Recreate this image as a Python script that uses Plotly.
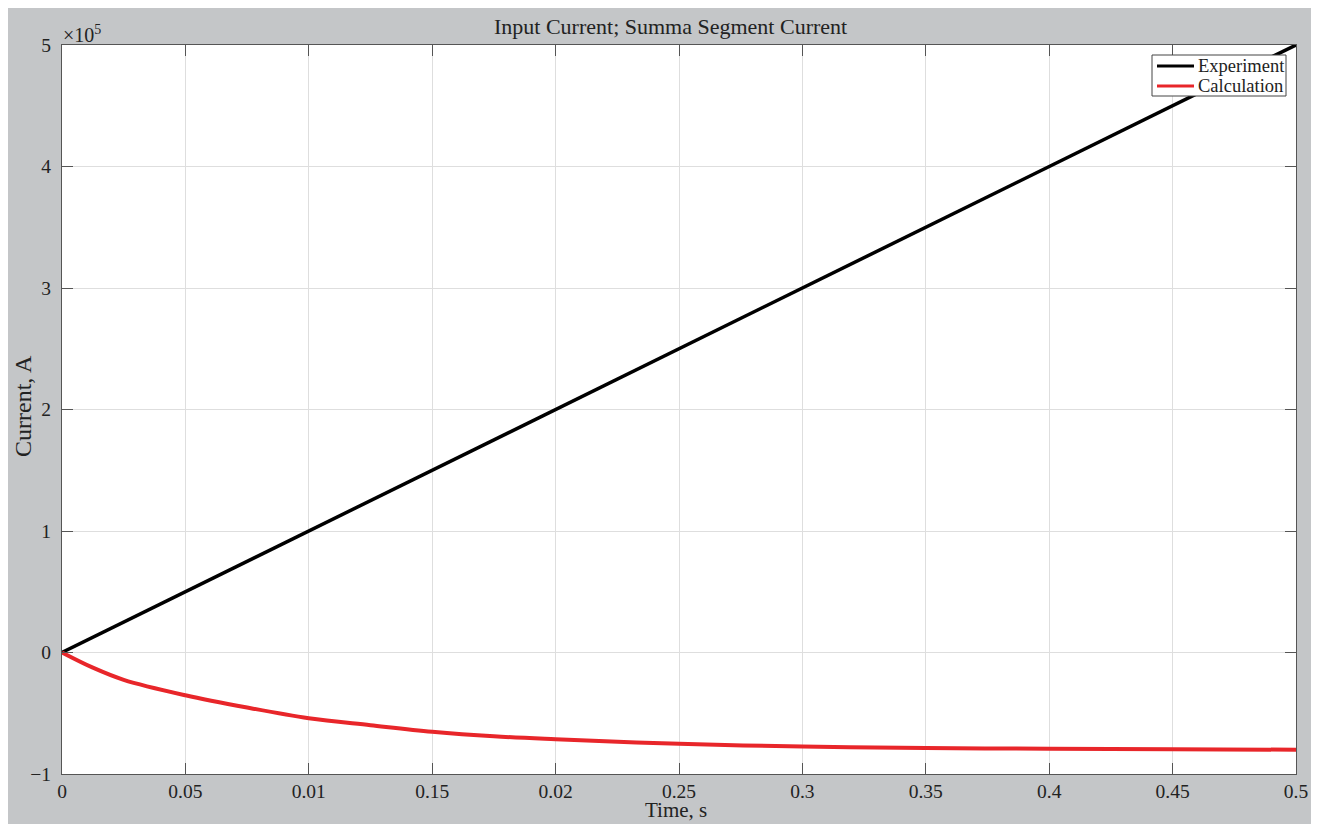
import plotly.graph_objects as go

# ---- data ----
t_exp = [0.0, 0.1, 0.2, 0.3, 0.4, 0.5]
i_exp = [0.0, 1.0e5, 2.0e5, 3.0e5, 4.0e5, 5.0e5]

t_calc = [0.0, 0.0125, 0.025, 0.05, 0.075, 0.1, 0.125, 0.15, 0.175, 0.2,
          0.25, 0.3, 0.35, 0.4, 0.45, 0.5]
i_calc = [0.0, -0.125e5, -0.225e5, -0.352e5, -0.453e5, -0.541e5, -0.598e5,
          -0.652e5, -0.69e5, -0.714e5, -0.752e5, -0.774e5, -0.786e5,
          -0.792e5, -0.797e5, -0.80e5]

x_tickvals = [0, 0.05, 0.1, 0.15, 0.2, 0.25, 0.3, 0.35, 0.4, 0.45, 0.5]
x_ticktext = ["0", "0.05", "0.01", "0.15", "0.02", "0.25", "0.3", "0.35", "0.4", "0.45", "0.5"]
y_tickvals = [-1e5, 0, 1e5, 2e5, 3e5, 4e5, 5e5]
y_ticktext = ["\u22121", "0", "1", "2", "3", "4", "5"]

series_names = ["Experiment", "Calculation"]
series_colors = ["#000000", "#e8262a"]

FONT = "Liberation Serif"
OFF = 8  # page body margin (white strip at top/left)
W, H = 1311, 816
# plot area in page pixels: left 62, right 1296, top 45, bottom 774
L, T = 62 - OFF, 45 - OFF
R = W - (1296 - OFF)
B = H - (774 - OFF)
PW, PH = W - L - R, H - T - B

def px_x(p):
    return (p - OFF - L) / PW

def px_y(p):
    return (H - B - (p - OFF)) / PH

fig = go.Figure()
fig.add_trace(go.Scatter(x=t_exp, y=i_exp, mode="lines", name=series_names[0],
                         line=dict(color=series_colors[0], width=3.5)))
fig.add_trace(go.Scatter(x=t_calc, y=i_calc, mode="lines", name=series_names[1],
                         line=dict(color=series_colors[1], width=4, shape="spline")))

axis_common = dict(
    showline=True, linecolor="#555555", linewidth=1, mirror="allticks",
    ticks="inside", ticklen=11, tickcolor="#555555", tickwidth=1,
    showgrid=True, gridcolor="#dedede", gridwidth=1, zeroline=False,
    tickfont=dict(family=FONT, size=19.5, color="#222222"),
)

fig.update_xaxes(range=[0, 0.5], tickmode="array", tickvals=x_tickvals,
                 ticktext=x_ticktext, ticklabelstandoff=0, **axis_common)
fig.update_yaxes(range=[-1e5, 5e5], tickmode="array", tickvals=y_tickvals,
                 ticktext=y_ticktext, ticklabelstandoff=6, **axis_common)

# legend box (drawn manually to match the compact MATLAB legend)
shapes = [
    dict(type="rect", xref="paper", yref="paper", layer="above",
         x0=px_x(1152), x1=px_x(1286), y0=px_y(96), y1=px_y(55),
         fillcolor="#ffffff", line=dict(color="#444444", width=1)),
]
annotations = []
row_y = [66, 86]
for name, color, ry in zip(series_names, series_colors, row_y):
    shapes.append(dict(type="line", xref="paper", yref="paper", layer="above",
                       x0=px_x(1157), x1=px_x(1194), y0=px_y(ry), y1=px_y(ry),
                       line=dict(color=color, width=3)))
    annotations.append(dict(text=name, xref="paper", yref="paper",
                            x=px_x(1196), y=px_y(ry), xanchor="left", yanchor="middle",
                            showarrow=False,
                            font=dict(family=FONT, size=18.5, color="#222222")))

annotations += [
    dict(text="Input Current; Summa Segment Current", xref="paper", yref="paper",
         x=px_x(670), y=px_y(27), xanchor="center", yanchor="middle",
         showarrow=False, font=dict(family=FONT, size=22, color="#222222")),
    dict(text="Time, s", xref="paper", yref="paper",
         x=px_x(676), y=px_y(810), xanchor="center", yanchor="middle",
         showarrow=False, font=dict(family=FONT, size=21, color="#222222")),
    dict(text="Current, A", xref="paper", yref="paper",
         x=px_x(23), y=px_y(406), xanchor="center", yanchor="middle",
         textangle=-90, showarrow=False,
         font=dict(family=FONT, size=24, color="#222222")),
    dict(text="\u00d710<sup>5</sup>", xref="paper", yref="paper",
         x=px_x(61), y=px_y(34), xanchor="left", yanchor="middle",
         showarrow=False, font=dict(family=FONT, size=20, color="#222222")),
]

fig.update_layout(
    width=W, height=H,
    margin=dict(l=L, r=R, t=T, b=B, pad=0),
    paper_bgcolor="#c4c6c8",
    plot_bgcolor="#ffffff",
    font=dict(family=FONT, color="#222222"),
    showlegend=False,
    shapes=shapes,
    annotations=annotations,
)

fig.write_html("out.html")
